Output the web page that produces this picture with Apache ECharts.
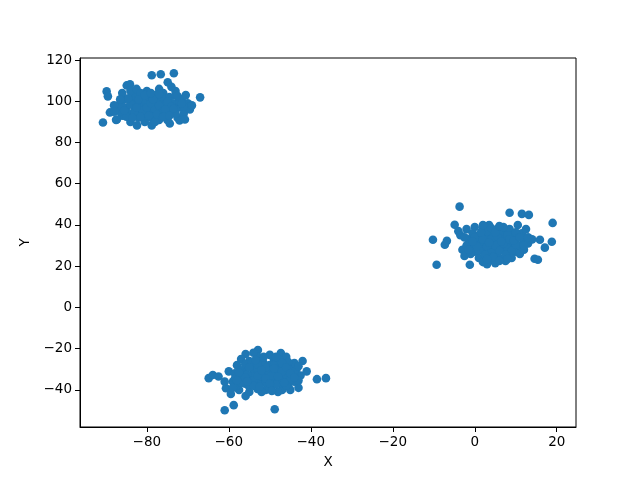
<!DOCTYPE html>
<html>
<head>
<meta charset="utf-8">
<script src="https://cdn.jsdelivr.net/npm/echarts@6/dist/echarts.min.js"></script>
<style>html,body{margin:0;padding:0;background:#fff}#c{width:640px;height:480px}</style>
</head>
<body>
<div id="c"></div>
<script>
const xTicks = [-80, -60, -40, -20, 0, 20];
const yTicks = [-40, -20, 0, 20, 40, 60, 80, 100, 120];

const clusterA = [
[-90.7,89.7],[-89.8,104.8],[-89.5,102.4],[-89,94.6],[-87.5,91],[-87,96],[-86.5,99],[-86,93],[-85.5,101],[-85,97],[-84.9,107.7],[-84.1,108.2],[-84.5,94],[-84,90],[-83.5,100],[-83,103],[-83,96],[-82.4,88.3],[-82,92],[-82,99],[-81.5,94],[-81,102],[-81,97],[-80.5,90],[-80,105],[-80,99],[-79.5,95],[-79,101],[-79,92],[-78.8,112.6],[-78.8,88.3],[-78.5,97],[-78,103],[-78,94],[-77.5,99],[-77,106],[-77,91],[-76.6,113.1],[-76.5,96],[-76,101],[-76,104],[-75.5,93],[-75,98],[-74.9,109.2],[-74.5,102],[-74.4,89.2],[-74,95],[-73.4,113.6],[-73.5,99],[-73,105],[-72.5,92],[-72,97],[-72,90.7],[-71.5,101],[-71,94],[-70.7,91.2],[-70,99],[-69.5,96],[-67,101.9],[-87.3,91.2],[-86,104],[-84,105],[-82.5,106],[-80,93],[-78,90],[-75,91],[-73,103],[-77,100],[-80.5,101],[-83,98],[-79.5,96],[-76,98],[-81.5,104],[-74,107],[-70.5,103],[-88,98],[-86.5,95],[-69,98],
[-86,97.5],[-85,92.5],[-84,98.5],[-83,94.5],[-82,101],[-81,95.5],[-80,97],[-79,99],[-78,96],[-77,98],[-76,95],[-75,100],[-74,97.5],[-73,94],[-72,100],[-71,97.5],[-80.5,103],[-78.5,101],[-76.5,102.5],[-82.5,97],[-84.5,101.5],[-86.5,101],[-79,104],[-77.5,93.5],[-75.5,96],[-73.5,96.5],[-71.5,99],[-81.5,92.5],[-83.5,92],[-79.5,93],[-76,92.5],[-74.5,93],[-72.5,102.5],[-77,103.5],[-85.5,95.5],[-88,95]
];
const clusterB = [
[-10.2,32.8],[-9.3,20.7],[-7.3,30.4],[-6.8,32.3],[-3.7,48.9],[-4.9,40.1],[-4,37],[-3.5,35],[-3,28],[-2.5,25],[-2,38],[-1.5,33],[-1.2,20.7],[-1,30],[-0.5,36],[0,27],[0,39],[0.5,32],[1,24],[1,35],[1.5,29],[2,22],[2,38],[2.5,31],[3,26],[3,34],[3.5,40],[4,29],[4,23],[4.5,36],[5,32],[5,27],[5.5,38],[6,24],[6,30],[6.5,34],[7,28],[7,37],[7.5,22.5],[8,32],[8,26],[8.5,45.9],[8.5,38],[9,30],[9.5,35],[10,27],[10,33],[10.5,40],[11,30],[11.5,45.4],[11.5,36],[12,32],[12.5,38],[13,31],[13.2,44.9],[14,33],[14.6,23.6],[15.4,23.1],[15.9,32.8],[17.1,29],[18.8,31.9],[19,41],[-2,30],[1,31],[3,37],[5,25],[7,33],[9,24],[2,28],[4,33],[6,36],[8,29],[-1,26],[0,34],[11,26],[12,28],[5,21.5],[3,21],
[1,27.5],[2,33],[3,29.5],[4,26.5],[5,30],[6,27.5],[7,31],[8,35],[9,27.5],[10,30.5],[3.5,31.5],[5.5,34.5],[6.5,32],[4.5,24.5],[2.5,25.5],[7.5,25.5],[8.5,33],[9.5,32.5],[6,22.5],[1.5,36.5],[0.5,29.5],[-0.5,32],[4,38.5],[7,39],[10,36.5],[11,34],[12,30],[13,34],[5,36.5],[3,23.5],[8,23.5],[-2.5,34],[-1.5,28],[2,40],[6,39.5]
];
const clusterC = [
[-64.9,-34.3],[-63.9,-32.8],[-62.5,-33.5],[-61,-49.9],[-58.8,-47.4],[-48.8,-49.4],[-42,-26],[-38.5,-34.8],[-36.3,-34.3],[-52.9,-20.7],[-55.9,-22.6],[-47.3,-22.1],[-60.7,-39.2],[-55.9,-43],[-60,-31],[-59,-36],[-58,-28],[-57.5,-40],[-57,-33],[-56,-30],[-56,-37],[-55,-26],[-55,-41],[-54.5,-34],[-54,-29],[-53.5,-38],[-53,-24],[-52.5,-32],[-52,-36],[-51.5,-27],[-51,-40],[-50.5,-30],[-50,-34],[-49.5,-38],[-49,-25],[-48.5,-32],[-48,-36],[-47.5,-28],[-47,-40],[-46.5,-31],[-46,-24],[-46,-35],[-45.5,-38],[-45,-29],[-44.5,-33],[-44,-36],[-43.5,-30],[-43,-39],[-42.5,-33],[-41,-31],[-58.5,-32],[-54,-32],[-51,-33],[-49,-31],[-53,-36],[-50,-28],[-47,-34],[-56.5,-35],[-58,-38],[-52,-41],[-48,-41],[-45,-40],[-61,-36],[-59.5,-42],[-50,-23],[-44,-27],[-54,-22],[-57,-25],
[-57,-30.5],[-55.5,-32.5],[-54,-35.5],[-53,-30],[-52,-33.5],[-51,-36.5],[-50,-31.5],[-49,-35],[-48,-29.5],[-47,-37],[-46,-32.5],[-45,-35],[-44,-31],[-55,-38.5],[-53,-39.5],[-51,-29],[-49,-28],[-47.5,-25.5],[-52,-26],[-56,-27.5],[-58.5,-34.5],[-59,-39],[-57,-36.5],[-50,-39.5],[-46,-38],[-43,-35.5],[-48.5,-37.5],[-54.5,-27],[-51.5,-24],[-45.5,-26.5],[-53,-33],[-49.5,-33],[-47,-31],
[-56,-34],[-55,-29],[-54,-38],[-53,-27.5],[-52,-30.5],[-51,-34.5],[-50,-37],[-49,-29.5],[-48,-33.5],[-47,-27],[-46,-29],[-45,-32],[-44,-34],[-57.5,-31.5],[-55.5,-36],[-52.5,-38.5],[-49.5,-40.5],[-46.5,-36.5],[-58,-35.5],[-53.5,-25.5],[-48.5,-24],[-43,-28.5]
];

const points = clusterA.concat(clusterB, clusterC);

const fmt = v => String(v).replace('-', '\u2212');
const font = 'DejaVu Sans';

const chart = echarts.init(document.getElementById('c'));
chart.setOption({
  animation: false,
  grid: { left: 80, right: 64, top: 58, bottom: 53, show: true, borderColor: '#000', borderWidth: 1, backgroundColor: 'transparent' },
  xAxis: {
    type: 'value', min: -96.3, max: 24.7,
    name: 'X', nameLocation: 'middle', nameGap: 28,
    nameTextStyle: { fontFamily: font, fontSize: 13.5, color: '#000' },
    axisLine: { show: true, onZero: false, lineStyle: { color: '#000', width: 1 } },
    axisTick: { show: true, length: 5, inside: false, customValues: xTicks, lineStyle: { color: '#000' } },
    axisLabel: { customValues: xTicks, formatter: fmt, fontFamily: font, fontSize: 13.5, color: '#000', margin: 8 },
    splitLine: { show: false }
  },
  yAxis: {
    type: 'value', min: -58, max: 121,
    name: 'Y', nameLocation: 'middle', nameGap: 46, nameRotate: 90,
    nameTextStyle: { fontFamily: font, fontSize: 13.5, color: '#000' },
    axisLine: { show: true, onZero: false, lineStyle: { color: '#000', width: 1 } },
    axisTick: { show: true, length: 5, inside: false, customValues: yTicks, lineStyle: { color: '#000' } },
    axisLabel: { customValues: yTicks, formatter: fmt, fontFamily: font, fontSize: 13.5, color: '#000', margin: 8 },
    splitLine: { show: false }
  },
  series: [{
    type: 'scatter',
    data: points,
    symbolSize: 8.6,
    itemStyle: { color: '#1f77b4', opacity: 1 }
  }]
});
</script>
</body>
</html>
